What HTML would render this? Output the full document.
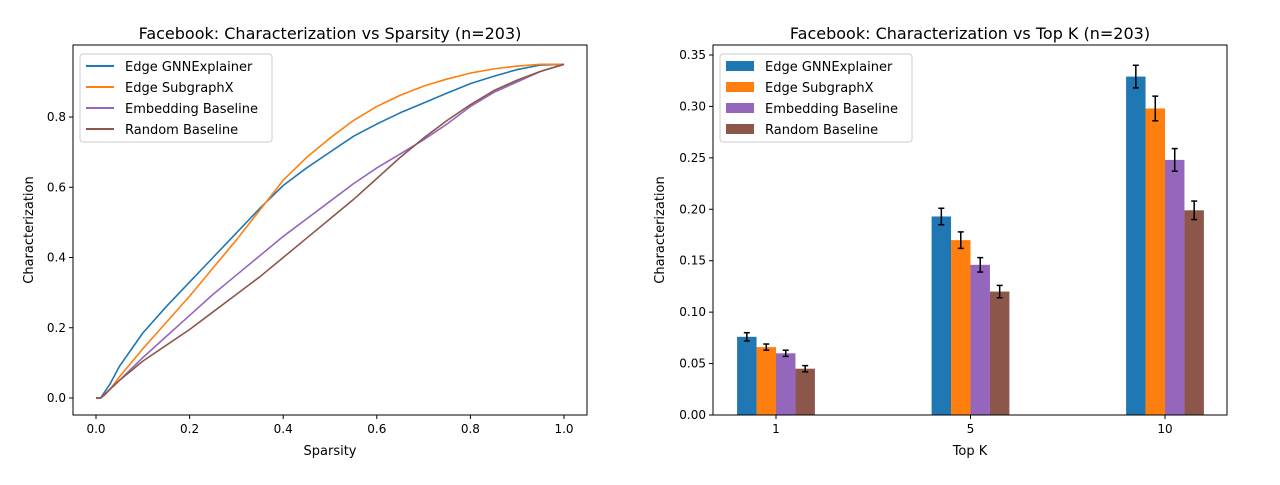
<!DOCTYPE html>
<html><head><meta charset="utf-8"><style>
body{margin:0;background:#fff;}
svg text{font-family:"DejaVu Sans","Liberation Sans",sans-serif;fill:#000;}
</style></head><body>
<svg id="c" width="1280" height="480" xmlns="http://www.w3.org/2000/svg"></svg>
<script>
const sparsity=[0,0.01,0.02,0.03,0.05,0.1,0.15,0.2,0.25,0.3,0.35,0.4,0.45,0.5,0.55,0.6,0.65,0.7,0.75,0.8,0.85,0.9,0.95,1.0];
const lineGnn=[0,0,0.02,0.04,0.09,0.185,0.26,0.33,0.40,0.47,0.54,0.605,0.655,0.70,0.745,0.78,0.812,0.84,0.868,0.895,0.916,0.935,0.948,0.95];
const lineSub=[0,0,0.01,0.025,0.06,0.14,0.215,0.29,0.37,0.45,0.535,0.62,0.685,0.74,0.79,0.83,0.862,0.888,0.908,0.925,0.937,0.945,0.95,0.95];
const lineEmb=[0,0,0.012,0.025,0.05,0.115,0.175,0.235,0.295,0.35,0.405,0.46,0.51,0.56,0.61,0.655,0.695,0.735,0.78,0.83,0.87,0.9,0.93,0.95];
const lineRnd=[0,0,0.012,0.025,0.05,0.105,0.15,0.195,0.245,0.295,0.345,0.40,0.455,0.51,0.565,0.625,0.685,0.74,0.79,0.835,0.875,0.905,0.93,0.95];
const topK=["1","5","10"];
const barGnn=[0.076,0.193,0.329];
const barSub=[0.066,0.170,0.298];
const barEmb=[0.060,0.146,0.248];
const barRnd=[0.045,0.120,0.199];
const errGnn=[0.004,0.008,0.011];
const errSub=[0.003,0.008,0.012];
const errEmb=[0.003,0.007,0.011];
const errRnd=[0.003,0.006,0.009];
const names=["Edge GNNExplainer","Edge SubgraphX","Embedding Baseline","Random Baseline"];
const colors=["#1f77b4","#ff7f0e","#9467bd","#8c564b"];
const leftTicksX=[0,0.2,0.4,0.6,0.8,1.0];
const leftTicksY=[0,0.2,0.4,0.6,0.8];
const rightTicksY=[0,0.05,0.1,0.15,0.2,0.25,0.3,0.35];

const svg=document.getElementById('c');const NS="http://www.w3.org/2000/svg";
function mk(t,a,p){const e=document.createElementNS(NS,t);for(const k in a)e.setAttribute(k,a[k]);(p||svg).appendChild(e);return e;}
function txt(s,a,p){const e=mk('text',a,p);e.textContent=s;return e;}

const lx=v=>96+v*468, ly=v=>398-v*351.25;
const gL=mk('g',{});
txt("Facebook: Characterization vs Sparsity (n=203)",{x:330,y:39,'text-anchor':'middle','font-size':16},gL);
leftTicksX.forEach(v=>{mk('line',{x1:lx(v),x2:lx(v),y1:415,y2:419,stroke:'#000'},gL);const t=txt(v.toFixed(1),{x:lx(v),y:433,'text-anchor':'middle','font-size':12},gL);});
leftTicksY.forEach(v=>{mk('line',{x1:69,x2:73,y1:ly(v),y2:ly(v),stroke:'#000'},gL);const t=txt(v.toFixed(1),{x:66,y:ly(v)+4,'text-anchor':'end','font-size':12},gL);});
txt("Sparsity",{x:330,y:455,'text-anchor':'middle','font-size':13},gL);
txt("Characterization",{x:33,y:230,'text-anchor':'middle','font-size':13,transform:'rotate(-90 33 230)'},gL);
[lineGnn,lineSub,lineEmb,lineRnd].forEach((s,i)=>{
  const p=mk('polyline',{points:s.map((v,j)=>lx(sparsity[j])+','+ly(v)).join(' '),fill:'none',stroke:colors[i],'stroke-width':1.6,'stroke-linejoin':'round'},gL);
  
});
mk('rect',{x:73,y:45,width:514,height:370,fill:'none',stroke:'#000','stroke-width':1},gL);
const lgL=mk('g',{},gL);
mk('rect',{x:80,y:54,width:192,height:88,rx:3,fill:'#fff',stroke:'#ccc'},lgL);
names.forEach((n,i)=>{mk('line',{x1:86,x2:114,y1:66+i*21,y2:66+i*21,stroke:colors[i],'stroke-width':2},lgL);txt(n,{x:125,y:71+i*21,'font-size':13},lgL);});

const rx=i=>776+i*194.5, ry=v=>415-v*1028.6;
const gR=mk('g',{});
txt("Facebook: Characterization vs Top K (n=203)",{x:970,y:39,'text-anchor':'middle','font-size':16},gR);
rightTicksY.forEach(v=>{mk('line',{x1:709,x2:713,y1:ry(v),y2:ry(v),stroke:'#000'},gR);const t=txt(v.toFixed(2),{x:706,y:ry(v)+4,'text-anchor':'end','font-size':12},gR);});
topK.forEach((k,i)=>{mk('line',{x1:rx(i),x2:rx(i),y1:415,y2:419,stroke:'#000'},gR);const t=txt(k,{x:rx(i),y:433,'text-anchor':'middle','font-size':12},gR);});
txt("Top K",{x:970,y:455,'text-anchor':'middle','font-size':13},gR);
txt("Characterization",{x:664,y:230,'text-anchor':'middle','font-size':13,transform:'rotate(-90 664 230)'},gR);
const bw=0.1*194.5;
[[barGnn,errGnn],[barSub,errSub],[barEmb,errEmb],[barRnd,errRnd]].forEach(([vals,errs],s)=>{
  vals.forEach((v,i)=>{
    const cx=rx(i)+(s-1.5)*bw;
    const r=mk('rect',{x:cx-bw/2,y:ry(v),width:bw,height:ry(0)-ry(v),fill:colors[s]},gR);
    
    const e=errs[i];
    mk('line',{x1:cx,x2:cx,y1:ry(v+e),y2:ry(v-e),stroke:'#000','stroke-width':1.5},gR);
    mk('line',{x1:cx-3,x2:cx+3,y1:ry(v+e),y2:ry(v+e),stroke:'#000','stroke-width':1.5},gR);
    mk('line',{x1:cx-3,x2:cx+3,y1:ry(v-e),y2:ry(v-e),stroke:'#000','stroke-width':1.5},gR);
  });
});
mk('rect',{x:713,y:45,width:514,height:370,fill:'none',stroke:'#000','stroke-width':1},gR);
const lgR=mk('g',{},gR);
mk('rect',{x:720,y:54,width:192,height:88,rx:3,fill:'#fff',stroke:'#ccc'},lgR);
names.forEach((n,i)=>{mk('rect',{x:726,y:61+i*21,width:28,height:10,fill:colors[i]},lgR);txt(n,{x:765,y:71+i*21,'font-size':13},lgR);});
</script>
</body></html>
